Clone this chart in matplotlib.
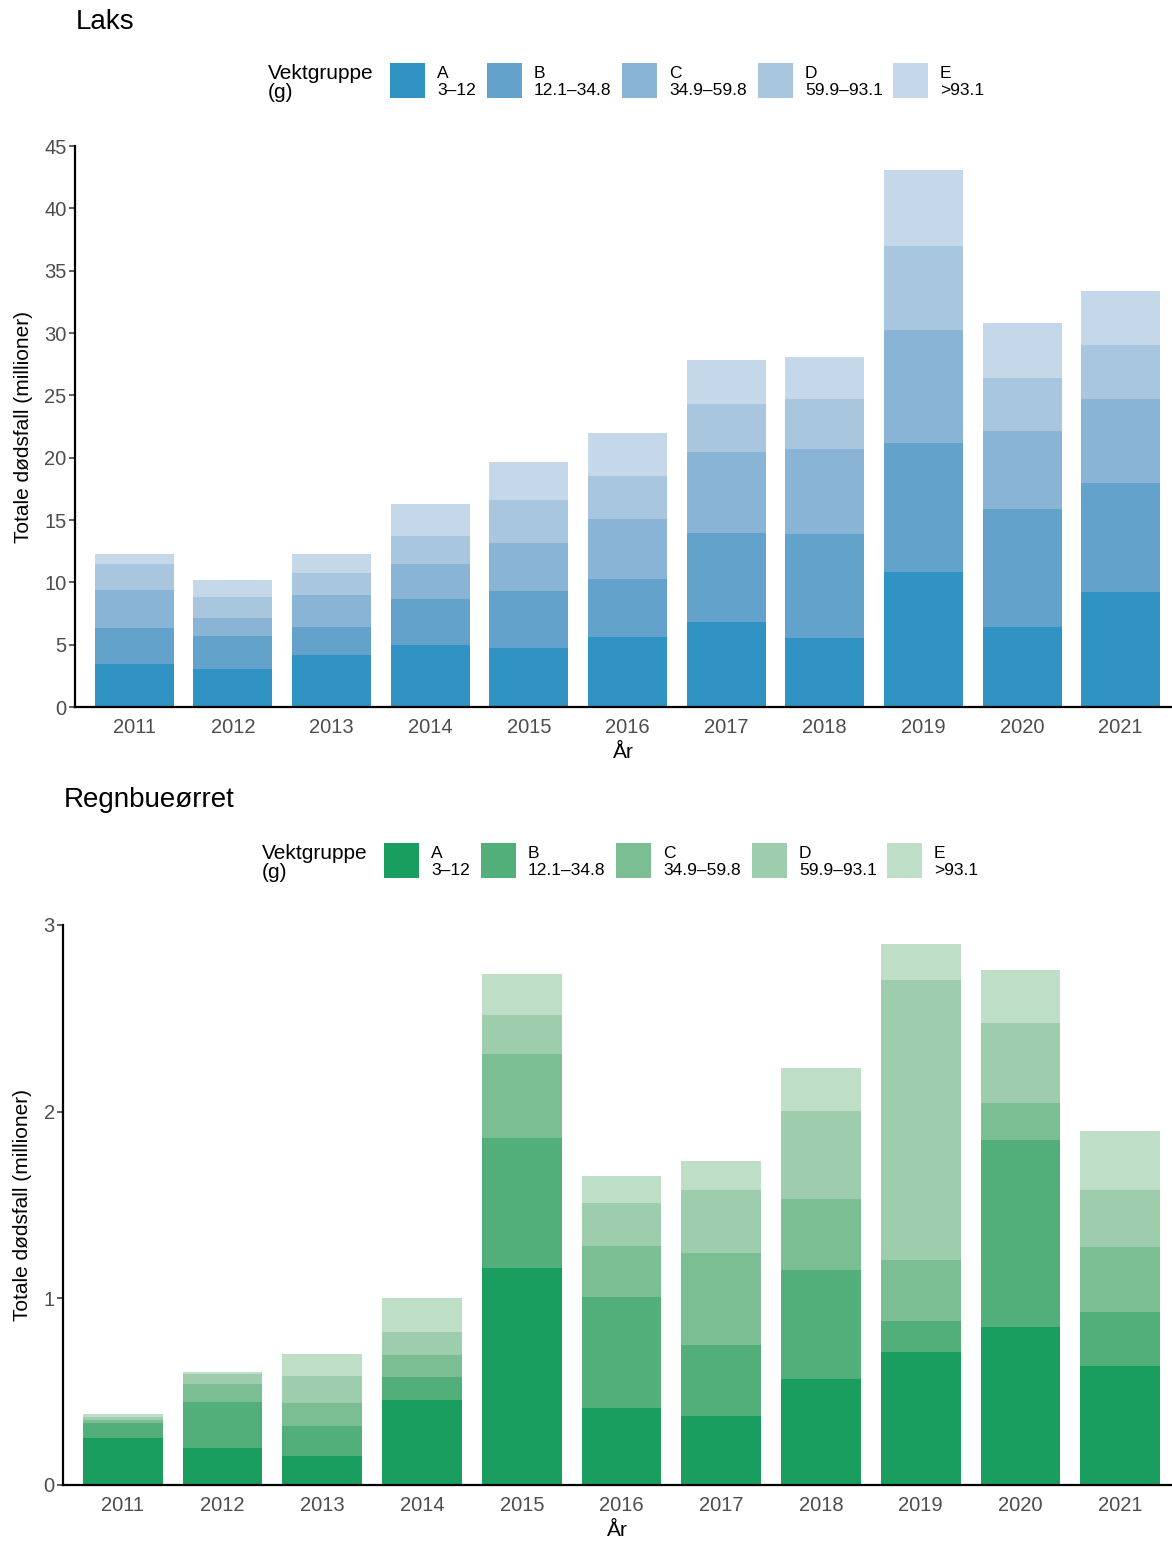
import numpy as np
import matplotlib.pyplot as plt
from matplotlib.patches import Rectangle

plt.rcParams["font.family"] = ["Liberation Sans", "DejaVu Sans"]

W, H = 1172, 1544

# ── data (millioner dødsfall per vektgruppe) ───────────────────────────────────
years = ["2011", "2012", "2013", "2014", "2015", "2016",
         "2017", "2018", "2019", "2020", "2021"]
groups = ["A", "B", "C", "D", "E"]
group_ranges = ["3\u201312", "12.1\u201334.8", "34.9\u201359.8", "59.9\u201393.1", ">93.1"]

laks_A = [3.45, 3.05, 4.14, 4.96, 4.75, 5.65, 6.80, 5.50, 10.83, 6.44, 9.25]
laks_B = [2.90, 2.63, 2.24, 3.69, 4.53, 4.63, 7.14, 8.41, 10.34, 9.41, 8.74]
laks_C = [3.05, 1.49, 2.60, 2.81, 3.87, 4.78, 6.50, 6.80, 9.07, 6.25, 6.72]
laks_D = [2.09, 1.69, 1.75, 2.27, 3.48, 3.48, 3.90, 4.00, 6.74, 4.33, 4.29]
laks_E = [0.79, 1.33, 1.55, 2.57, 3.00, 3.47, 3.48, 3.38, 6.11, 4.41, 4.38]

rb_A = [0.252, 0.199, 0.156, 0.457, 1.161, 0.414, 0.371, 0.569, 0.715, 0.844, 0.637]
rb_B = [0.081, 0.247, 0.161, 0.123, 0.696, 0.594, 0.379, 0.584, 0.166, 1.005, 0.291]
rb_C = [0.017, 0.093, 0.123, 0.118, 0.451, 0.270, 0.491, 0.381, 0.327, 0.197, 0.348]
rb_D = [0.015, 0.055, 0.144, 0.123, 0.211, 0.235, 0.340, 0.471, 1.499, 0.430, 0.303]
rb_E = [0.016, 0.012, 0.120, 0.180, 0.219, 0.142, 0.154, 0.231, 0.189, 0.283, 0.315]

blues = ["#3192c4", "#63a3cb", "#8ab4d5", "#a9c6df", "#c5d8e9"]
greens = ["#1a9e5f", "#52af79", "#7bbe94", "#9ecdad", "#bedec8"]

# legend key offsets (px) from the first key
key_offsets = [0, 97, 232, 368, 503]

fig = plt.figure(figsize=(W / 100, H / 100), dpi=100)


def fx(px):
    return px / W


def fy(py):
    return 1 - py / H


def stacked_panel(rect, series, colors, ymax, yticks):
    ax = fig.add_axes(rect)
    x = np.arange(len(years))
    bottom = np.zeros(len(years))
    for vals, col in zip(series, colors):
        ax.bar(x, vals, width=0.8, bottom=bottom, color=col, linewidth=0)
        bottom += np.array(vals)
    ax.set_xlim(-0.6, len(years) - 0.48)
    ax.set_ylim(0, ymax)
    ax.set_xticks(x)
    ax.set_xticklabels(years)
    ax.set_yticks(yticks)
    for s in ["top", "right"]:
        ax.spines[s].set_visible(False)
    for s in ["left", "bottom"]:
        ax.spines[s].set_linewidth(1.6)
        ax.spines[s].set_color("black")
    ax.tick_params(axis="y", length=4, width=1.1, color="#333333",
                   labelsize=14.5, labelcolor="#4d4d4d", pad=2)
    ax.tick_params(axis="x", length=0, labelsize=14.5, labelcolor="#4d4d4d", pad=8)
    ax.set_xlabel("År", fontsize=15, labelpad=4)
    ax.set_ylabel("Totale dødsfall (millioner)", fontsize=15, labelpad=8)
    return ax


def legend_row(x0, y0, colors):
    # horizontal legend: title on the left, key + two-line label
    fig.text(fx(x0), fy(y0 + 20), "Vektgruppe\n(g)", fontsize=15,
             va="center", ha="left", linespacing=1.05)
    xs = x0 + 122
    for i, (g, r) in enumerate(zip(groups, group_ranges)):
        kx = xs + key_offsets[i]
        fig.add_artist(Rectangle((fx(kx), fy(y0 + 35)), fx(35), 35 / H,
                                 transform=fig.transFigure, color=colors[i],
                                 linewidth=0))
        fig.text(fx(kx + 47), fy(y0 + 19), f"{g}\n{r}", fontsize=12.5,
                 va="center", ha="left", linespacing=1.1)


# ── Laks ───────────────────────────────────────────────────────────────────────
ax1 = stacked_panel([fx(75), fy(707), 1 - fx(75), (707 - 146) / H],
                    [laks_A, laks_B, laks_C, laks_D, laks_E], blues,
                    45, np.arange(0, 46, 5))
fig.text(fx(76), fy(22), "Laks", fontsize=20, va="center", ha="left")
legend_row(268, 63, blues)

# ── Regnbueørret ──────────────────────────────────────────────────────────────
ax2 = stacked_panel([fx(63), fy(1485), 1 - fx(63), (1485 - 925) / H],
                    [rb_A, rb_B, rb_C, rb_D, rb_E], greens,
                    3, [0, 1, 2, 3])
fig.text(fx(64), fy(800), "Regnbueørret", fontsize=20, va="center", ha="left")
legend_row(262, 843, greens)

fig.savefig("out.png", dpi=100)
